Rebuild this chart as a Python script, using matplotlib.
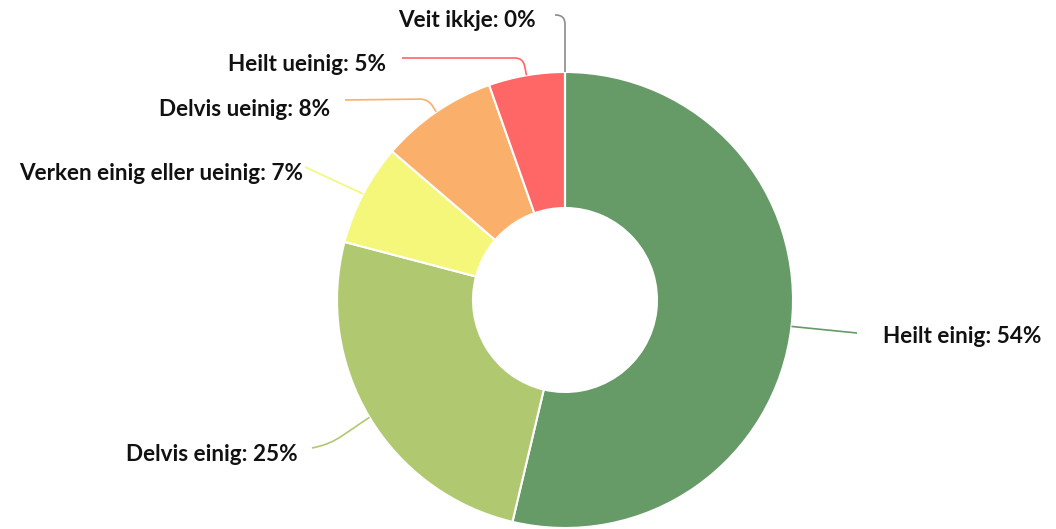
import numpy as np
import matplotlib.pyplot as plt
from matplotlib.path import Path
from matplotlib.patches import PathPatch

labels = ["Heilt einig", "Delvis einig", "Verken einig eller ueinig",
          "Delvis ueinig", "Heilt ueinig", "Veit ikkje"]
# shares, shown rounded in the labels
values = [53.7, 25.4, 7.2, 8.3, 5.4, 0.0]
colors = ["#669a67", "#b0c971", "#f5f77a", "#fab06b", "#ff6666", "#8c8c8c"]

W, H = 1056, 529
cx, cy = 565, H - 300
r_out, r_in = 228, 92

# label layout in pixels (y from top): text x, baseline y, ha, bend point, connector end, corner radius
layout = [
    (883, 343, "left",  None,       (857, 333), 0),
    (298, 461, "right", (330, 444), (312, 448), 14),
    (303, 180, "right", None,       (305, 167), 0),
    (330, 116, "right", (428, 99),  (345, 100), 8),
    (386, 71,  "right", (523, 58),  (402, 58),  8),
    (536, 27,  "right", (565, 15),  (555, 15),  9),
]

fig = plt.figure(figsize=(W / 100, H / 100), dpi=100)
ax = fig.add_axes([0, 0, 1, 1])

wedges, _ = ax.pie(values, colors=colors, startangle=90, counterclock=False,
                   center=(cx, cy), radius=r_out, frame=True,
                   wedgeprops=dict(width=r_out - r_in, edgecolor="white", linewidth=1.5))
ax.set_xlim(0, W)
ax.set_ylim(0, H)
ax.set_aspect("equal")
ax.axis("off")

for w, lab, v, col, (tx, ty, ha, bend, end, rad) in zip(wedges, labels, values, colors, layout):
    mid = np.deg2rad((w.theta1 + w.theta2) / 2)
    A = np.array([cx + r_out * np.cos(mid), cy + r_out * np.sin(mid)])
    C = np.array([end[0], H - end[1]])
    if bend is None:
        verts = [A, C]
        codes = [Path.MOVETO, Path.LINETO]
    else:
        B = np.array([bend[0], H - bend[1]])
        P1 = B + rad * (A - B) / np.linalg.norm(A - B)
        P2 = B + rad * (C - B) / np.linalg.norm(C - B)
        verts = [A, P1, B, P2, C]
        codes = [Path.MOVETO, Path.LINETO, Path.CURVE3, Path.CURVE3, Path.LINETO]
    ax.add_patch(PathPatch(Path(verts, codes), fill=False, edgecolor=col, lw=1.2))
    ax.text(tx, H - ty, f"{lab}: {round(v)}%", ha=ha, va="baseline", fontsize=16.2,
            fontweight="bold", color="#111111", family=["Lato", "DejaVu Sans"])

fig.savefig("out.png", dpi=100, facecolor="white")
